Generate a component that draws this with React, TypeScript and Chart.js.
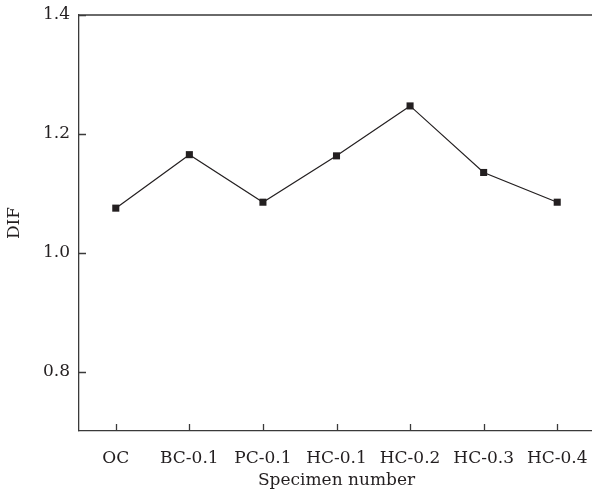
import React, { useEffect, useRef } from 'react';
import { Chart, registerables } from 'chart.js';

Chart.register(...registerables);

const categories = ['OC', 'BC-0.1', 'PC-0.1', 'HC-0.1', 'HC-0.2', 'HC-0.3', 'HC-0.4'];
const difValues = [1.075, 1.165, 1.085, 1.163, 1.247, 1.135, 1.085];
const yTicks = [0.8, 1.0, 1.2, 1.4];

const INK = '#231f20';
const AXIS = '#3a3a3a';
const FONT = { family: '"DejaVu Serif", "Liberation Serif", serif', size: 17 };
const TICK_LEN = 7;

const frameAndTicks = {
  id: 'frameAndTicks',
  afterDraw(chart: any) {
    const { ctx, chartArea } = chart;
    const xs = chart.scales.x;
    const ys = chart.scales.y;
    ctx.save();
    ctx.strokeStyle = AXIS;
    ctx.lineWidth = 1.3;
    ctx.beginPath();
    ctx.moveTo(chartArea.left, chartArea.top);
    ctx.lineTo(chartArea.right, chartArea.top);
    xs.ticks.forEach((_t: any, i: number) => {
      const px = Math.round(xs.getPixelForTick(i)) + 0.5;
      ctx.moveTo(px, chartArea.bottom);
      ctx.lineTo(px, chartArea.bottom - TICK_LEN);
    });
    ys.ticks.forEach((_t: any, i: number) => {
      const py = Math.round(ys.getPixelForTick(i)) + 0.5;
      ctx.moveTo(chartArea.left, py);
      ctx.lineTo(chartArea.left + TICK_LEN, py);
    });
    ctx.stroke();
    ctx.restore();
  },
};

export default function App() {
  const ref = useRef<HTMLCanvasElement | null>(null);

  useEffect(() => {
    if (!ref.current) return;
    const chart = new Chart(ref.current, {
      type: 'line',
      data: {
        labels: categories,
        datasets: [
          {
            data: difValues,
            borderColor: INK,
            borderWidth: 1.2,
            backgroundColor: INK,
            pointStyle: 'rect',
            pointRadius: 5,
            pointBackgroundColor: INK,
            pointBorderColor: INK,
            pointBorderWidth: 0,
            tension: 0,
          },
        ],
      },
      options: {
        animation: false,
        responsive: true,
        maintainAspectRatio: false,
        layout: { padding: { top: 15, right: 0, bottom: 0, left: 0 } },
        plugins: { legend: { display: false }, tooltip: { enabled: false } },
        scales: {
          x: {
            type: 'category',
            offset: true,
            afterFit: (s: any) => {
              s.height = 63;
              s.paddingLeft = 0;
              s.paddingRight = 0;
            },
            ticks: { font: FONT, color: INK, padding: 17, maxRotation: 0, autoSkip: false },
            grid: { drawOnChartArea: false, drawTicks: false, color: AXIS, lineWidth: 1.3, offset: false },
            border: { color: AXIS, width: 1.3 },
            title: { display: true, text: 'Specimen number', font: FONT, color: INK, padding: { top: 0, bottom: 3 } },
          },
          y: {
            min: 0.7,
            max: 1.4,
            afterBuildTicks: (s: any) => {
              s.ticks = yTicks.map((v) => ({ value: v }));
            },
            afterFit: (s: any) => {
              s.width = 79;
              s.paddingTop = 0;
              s.paddingBottom = 0;
            },
            ticks: { font: FONT, color: INK, padding: 9, callback: (v: any) => Number(v).toFixed(1) },
            grid: { drawOnChartArea: false, drawTicks: false, color: AXIS, lineWidth: 1.3 },
            border: { color: AXIS, width: 1.3 },
            title: { display: true, text: 'DIF', font: FONT, color: INK, padding: { top: 4, bottom: 0 } },
          },
        },
      },
      plugins: [frameAndTicks],
    });
    return () => chart.destroy();
  }, []);

  return (
    <div style={{ position: 'fixed', left: 0, top: 0, width: 592, height: 494, overflow: 'hidden', background: '#fff' }}>
      <div style={{ position: 'relative', width: 599, height: 494 }}>
        <canvas ref={ref} />
      </div>
    </div>
  );
}
